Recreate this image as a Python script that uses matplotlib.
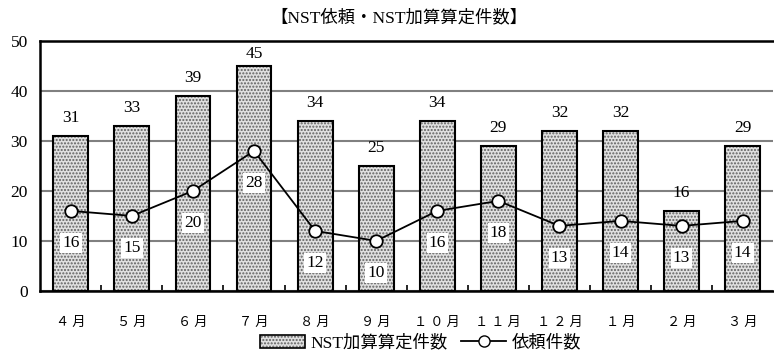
import matplotlib.pyplot as plt
from matplotlib.patches import Patch
from matplotlib.lines import Line2D
from matplotlib.colors import to_rgba

months = ['４ 月', '５ 月', '６ 月', '７ 月', '８ 月', '９ 月', '１ ０ 月', '１ １ 月', '１ ２ 月', '１ 月', '２ 月', '３ 月']
nst_kasan = [31, 33, 39, 45, 34, 25, 34, 29, 32, 32, 16, 29]
irai = [16, 15, 20, 28, 12, 10, 16, 18, 13, 14, 13, 14]

FONT = ['Liberation Serif', 'Noto Sans CJK JP', 'DejaVu Sans']
plt.rcParams['font.family'] = FONT
HATCH_COL = to_rgba('#606060')

fig = plt.figure(figsize=(7.74, 3.53), dpi=100)
ax = fig.add_axes([0.052, 0.176, 0.947, 0.708])

x = list(range(len(months)))
bars = ax.bar(x, nst_kasan, width=0.57, facecolor='#e0e0e0', edgecolor='black',
              linewidth=1.5, hatch='.....', zorder=2)
for b in bars:
    b._hatch_color = HATCH_COL
ax.plot(x, irai, color='black', linewidth=1.3, marker='o', markersize=9,
        markerfacecolor='white', markeredgecolor='black', markeredgewidth=1.3, zorder=4)

for xi, v in zip(x, nst_kasan):
    # label near the top gets pushed down so it stays inside the frame
    off = 3 if v > 42 else 7
    ax.annotate(str(v), (xi, v), xytext=(0, off), textcoords='offset points',
                ha='center', va='bottom', fontsize=12.5)
for xi, v in zip(x, irai):
    ax.annotate(str(v), (xi, v), xytext=(0, -23), textcoords='offset points',
                ha='center', va='center', fontsize=12.5, zorder=5,
                bbox=dict(boxstyle='square,pad=0.12', facecolor='white', edgecolor='none'))

ax.set_xlim(-0.5, len(months) - 0.5)
ax.set_ylim(0, 50)
ax.set_yticks([0, 10, 20, 30, 40, 50])
ax.yaxis.grid(True, color='#808080', linewidth=1.5, zorder=0)
ax.set_axisbelow(True)

ax.set_xticks(x)
ax.set_xticklabels(months, fontsize=9.5, family=['Noto Sans CJK JP'])
ax.set_xticks([i + 0.5 for i in x[:-1]], minor=True)
ax.tick_params(axis='x', which='major', length=0, pad=18)
ax.tick_params(axis='x', which='minor', length=4, direction='in', width=1.2)
ax.tick_params(axis='y', length=0, labelsize=12.5, pad=9)

for s in ['left', 'bottom', 'top']:
    ax.spines[s].set_linewidth(1.8)
ax.spines['right'].set_visible(False)

fig.text(0.515, 0.948, '【NST依頼・NST加算算定件数】', ha='center', va='center', fontsize=12.5)

leg_patch = Patch(facecolor='#e0e0e0', edgecolor='black', hatch='.....', linewidth=1.2)
leg_patch._hatch_color = HATCH_COL
handles = [leg_patch,
           Line2D([], [], color='black', marker='o', markersize=8, markerfacecolor='white', linewidth=1.3)]
leg = fig.legend(handles, ['NST加算算定件数', '依頼件数'], loc='center', bbox_to_anchor=(0.543, 0.028),
                 ncol=2, frameon=False, handlelength=2.6, handletextpad=0.3,
                 columnspacing=0.8, prop={'family': FONT, 'size': 12.5})
for p in leg.get_patches():
    p._hatch_color = HATCH_COL

fig.savefig('out.png', dpi=100)
